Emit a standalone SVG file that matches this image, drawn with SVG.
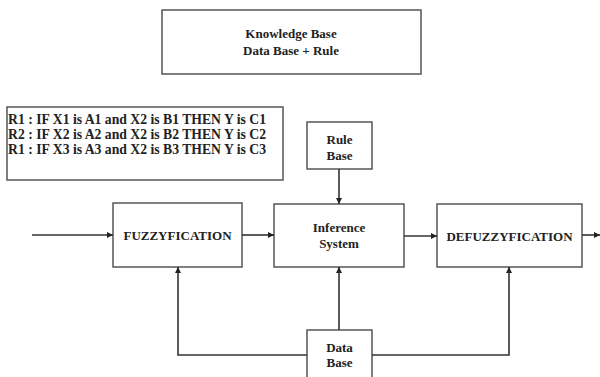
<svg xmlns="http://www.w3.org/2000/svg" width="600" height="377" viewBox="0 0 600 377">
<defs>
<style>
.box{fill:#fff;stroke:#555;stroke-width:1.5}
.t{font-family:"Liberation Serif","Times New Roman",serif;font-weight:bold;font-size:13px;fill:#222;text-anchor:middle;dominant-baseline:central}
.rl{font-family:"Liberation Serif","Times New Roman",serif;font-weight:bold;font-size:14px;fill:#222}
.c{fill:none;stroke:#333;stroke-width:1.6}
</style>
<marker id="ah" viewBox="0 0 10 10" refX="10" refY="5" markerWidth="6" markerHeight="6" markerUnits="userSpaceOnUse" orient="auto"><path d="M0,0 L10,5 L0,10 z" fill="#222"/></marker>
</defs>
<rect width="600" height="377" fill="#fff"/>
<g id="knowledge-base">
<rect class="box" x="162" y="10" width="259" height="64"/>
<text class="t" x="291" y="33">Knowledge Base</text>
<text class="t" x="291" y="50">Data Base + Rule</text>
</g>
<g id="rules">
<rect class="box" x="7" y="107" width="276" height="73"/>
<text class="rl" x="8" y="124" textLength="258" lengthAdjust="spacingAndGlyphs">R1 : IF X1 is A1 and X2 is B1 THEN Y is C1</text>
<text class="rl" x="8" y="139" textLength="258" lengthAdjust="spacingAndGlyphs">R2 : IF X2 is A2 and X2 is B2 THEN Y is C2</text>
<text class="rl" x="8" y="154" textLength="258" lengthAdjust="spacingAndGlyphs">R1 : IF X3 is A3 and X2 is B3 THEN Y is C3</text>
</g>
<g id="rule-base">
<rect class="box" x="307" y="122" width="65" height="47"/>
<text class="t" x="339.5" y="139">Rule</text>
<text class="t" x="339.5" y="155">Base</text>
</g>
<g id="fuzzyfication">
<rect class="box" x="113" y="203" width="129" height="64"/>
<text class="t" x="177.5" y="235">FUZZYFICATION</text>
</g>
<g id="inference">
<rect class="box" x="274" y="204" width="130" height="63"/>
<text class="t" x="339" y="227">Inference</text>
<text class="t" x="339" y="243">System</text>
</g>
<g id="defuzzyfication">
<rect class="box" x="437" y="204" width="145" height="63"/>
<text class="t" x="509.5" y="236">DEFUZZYFICATION</text>
</g>
<g id="data-base">
<rect class="box" x="307" y="330" width="65" height="52"/>
<text class="t" x="339.5" y="347">Data</text>
<text class="t" x="339.5" y="362">Base</text>
</g>
<g id="connectors">
<line class="c" x1="32" y1="235" x2="113" y2="235" marker-end="url(#ah)"/>
<line class="c" x1="242" y1="235" x2="274" y2="235" marker-end="url(#ah)"/>
<line class="c" x1="404" y1="236" x2="437" y2="236" marker-end="url(#ah)"/>
<line class="c" x1="582" y1="235" x2="600" y2="235" marker-end="url(#ah)"/>
<line class="c" x1="339" y1="169" x2="339" y2="204" marker-end="url(#ah)"/>
<line class="c" x1="339" y1="330" x2="339" y2="267" marker-end="url(#ah)"/>
<polyline class="c" points="307,355 178,355 178,267" marker-end="url(#ah)"/>
<polyline class="c" points="372,355 509,355 509,267" marker-end="url(#ah)"/>
</g>
</svg>
